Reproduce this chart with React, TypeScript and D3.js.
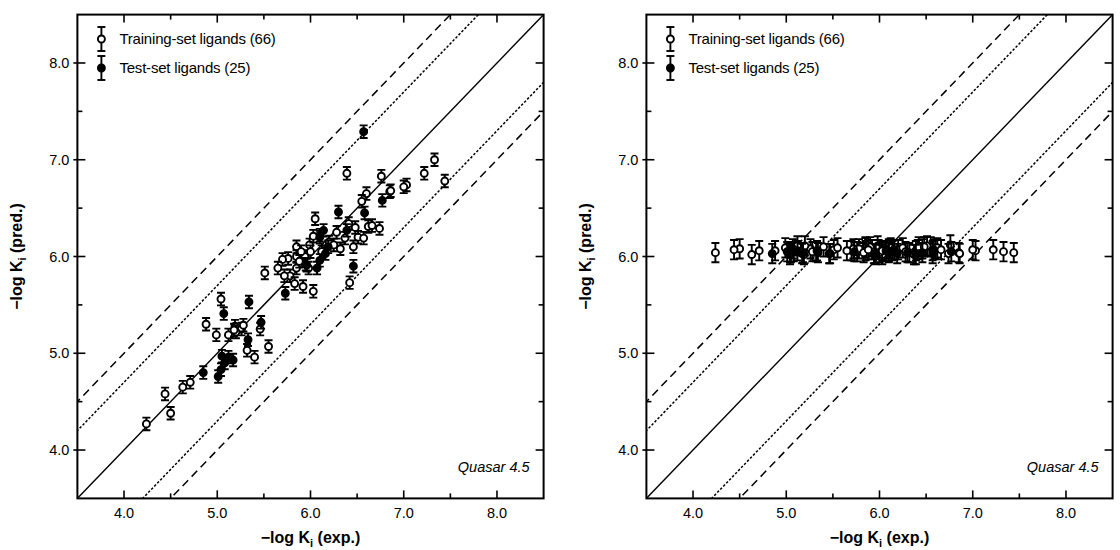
import * as d3 from 'd3';

// -log Ki experimental vs predicted (training set, open symbols)
const trainExp = [
  4.24, 4.50, 4.44, 4.63, 4.71, 4.88, 4.99, 5.04, 5.12, 5.19,
  5.26, 5.32, 5.40, 5.51, 5.46, 5.55, 6.39, 6.76, 6.85, 6.60,
  6.55, 6.05, 6.41, 6.74, 6.62, 6.51, 6.57, 6.32, 6.46, 6.37,
  5.99, 5.85, 5.76, 5.85, 5.94, 5.85, 5.98, 5.78, 5.83, 5.92,
  6.03, 6.42, 7.33, 7.22, 7.44, 7.03, 7.00, 6.86, 6.66, 5.20,
  5.28, 6.10, 5.70, 5.90, 6.00, 6.20, 6.25, 5.95, 6.03, 5.72,
  6.28, 6.48, 5.88, 5.18, 6.12, 5.65,
];
const trainPred = [
  4.27, 4.38, 4.58, 4.65, 4.70, 5.30, 5.19, 5.56, 5.19, 5.28,
  5.25, 5.03, 4.96, 5.83, 5.25, 5.07, 6.86, 6.83, 6.67, 6.65,
  6.57, 6.39, 6.34, 6.29, 6.31, 6.20, 6.19, 6.08, 6.10, 6.19,
  6.12, 6.10, 5.98, 6.00, 6.00, 5.88, 5.88, 5.80, 5.72, 5.69,
  5.64, 5.73, 7.00, 6.86, 6.78, 6.74, 6.72, 6.68, 6.32, 5.22,
  5.29, 6.22, 5.97, 6.05, 6.05, 6.15, 6.12, 5.92, 6.21, 5.80,
  6.25, 6.30, 5.95, 5.24, 6.05, 5.88,
];
// test set (filled symbols)
const testExp = [
  4.85, 5.01, 5.04, 5.05, 5.12, 5.17, 5.08, 5.07, 5.34, 5.33,
  5.47, 6.77, 6.58, 6.30, 6.39, 6.14, 6.10, 6.19, 6.16, 6.10,
  6.07, 5.96, 5.73, 6.46, 6.57,
];
const testPred = [
  4.80, 4.76, 4.83, 4.97, 4.96, 4.93, 4.90, 5.41, 5.53, 5.14,
  5.32, 6.58, 6.45, 6.46, 6.27, 6.27, 6.20, 6.10, 6.03, 5.96,
  5.88, 5.91, 5.62, 5.90, 7.29,
];
// second panel: predictions collapse to ~6.05
const trainPredFlat = [
  6.04, 6.08, 6.07, 6.02, 6.06, 6.06, 6.09, 6.04, 6.11, 6.02,
  6.08, 6.05, 6.10, 6.07, 6.03, 6.09, 6.06, 6.12, 6.04, 6.08,
  6.10, 6.05, 6.07, 6.03, 6.09, 6.11, 6.06, 6.04, 6.08, 6.02,
  6.07, 6.10, 6.05, 6.09, 6.03, 6.06, 6.11, 6.08, 6.04, 6.07,
  6.02, 6.10, 6.05, 6.07, 6.04, 6.06, 6.07, 6.03, 6.07, 6.11,
  6.05, 6.08, 6.06, 6.10, 6.04, 6.07, 6.09, 6.03, 6.06, 6.08,
  6.05, 6.10, 6.07, 6.04, 6.09, 6.06,
];
const testPredFlat = [
  6.03, 6.05, 6.02, 6.04, 6.06, 6.03, 6.05, 6.08, 6.04, 6.06,
  6.03, 6.05, 6.07, 6.04, 6.02, 6.06, 6.05, 6.03, 6.07, 6.04,
  6.06, 6.02, 6.05, 6.04, 6.03,
];

const majorTicks = [4, 5, 6, 7, 8];
const minorTicks = [4.5, 5.5, 6.5, 7.5];
const tickLabels = ['4.0', '5.0', '6.0', '7.0', '8.0'];
const guideOffsets = [-1, -0.7, 0, 0.7, 1];
const legendLabels = ['Training-set ligands (66)', 'Test-set ligands (25)'];
const programLabel = 'Quasar 4.5';

const FONT = '"Liberation Sans", Arial, Helvetica, sans-serif';
const TOP = 14.6;
const BOTTOM = 498.4;
const PW = 466.2;

function ErrPoint({ cx, cy, lo, hi, filled }: { cx: number; cy: number; lo: number; hi: number; filled: boolean }) {
  return (
    <g stroke="#000" strokeWidth={1.9}>
      <line x1={cx} x2={cx} y1={lo} y2={hi} />
      <line x1={cx - 4} x2={cx + 4} y1={lo} y2={lo} />
      <line x1={cx - 4} x2={cx + 4} y1={hi} y2={hi} />
      <circle cx={cx} cy={cy} r={3.5} fill={filled ? '#000' : '#fff'} />
    </g>
  );
}

function Panel({ id, left, trainY, testY, err }: { id: string; left: number; trainY: number[]; testY: number[]; err: number }) {
  const x = d3.scaleLinear().domain([3.5, 8.5]).range([left, left + PW]);
  const y = d3.scaleLinear().domain([3.5, 8.5]).range([BOTTOM, TOP]);
  const right = left + PW;
  const dashFor = (o: number) => (o === 0 ? undefined : Math.abs(o) === 1 ? '8,5' : '2.5,1.8');

  return (
    <g fontFamily={FONT}>
      <defs>
        <clipPath id={id}>
          <rect x={left} y={TOP} width={PW} height={BOTTOM - TOP} />
        </clipPath>
      </defs>
      <g clipPath={`url(#${id})`}>
        {guideOffsets.map(o => {
          const guide = d3.line<number>().x(d => x(d)).y(d => y(d + o));
          return (
            <path key={o} d={guide([2.5, 9.5]) || ''} fill="none" stroke="#000"
              strokeWidth={o === 0 ? 1.4 : 1.5} strokeDasharray={dashFor(o)} />
          );
        })}
        {trainExp.map((v, i) => (
          <ErrPoint key={'a' + i} cx={x(v)} cy={y(trainY[i])} lo={y(trainY[i] - err)} hi={y(trainY[i] + err)} filled={false} />
        ))}
        {testExp.map((v, i) => (
          <ErrPoint key={'b' + i} cx={x(v)} cy={y(testY[i])} lo={y(testY[i] - err)} hi={y(testY[i] + err)} filled={true} />
        ))}
      </g>
      <rect x={left} y={TOP} width={PW} height={BOTTOM - TOP} fill="none" stroke="#000" strokeWidth={2} />
      {majorTicks.map(t => (
        <g key={'M' + t} stroke="#000" strokeWidth={1.6}>
          <line x1={x(t)} x2={x(t)} y1={BOTTOM} y2={BOTTOM - 8} />
          <line x1={x(t)} x2={x(t)} y1={TOP} y2={TOP + 8} />
          <line x1={left - 4} x2={left + 8} y1={y(t)} y2={y(t)} />
          <line x1={right} x2={right - 8} y1={y(t)} y2={y(t)} />
        </g>
      ))}
      {minorTicks.map(t => (
        <g key={'m' + t} stroke="#000" strokeWidth={1.6}>
          <line x1={x(t)} x2={x(t)} y1={BOTTOM} y2={BOTTOM - 5} />
          <line x1={x(t)} x2={x(t)} y1={TOP} y2={TOP + 5} />
          <line x1={left} x2={left + 5} y1={y(t)} y2={y(t)} />
          <line x1={right} x2={right - 5} y1={y(t)} y2={y(t)} />
        </g>
      ))}
      {majorTicks.map((t, i) => (
        <text key={'xl' + t} x={x(t)} y={BOTTOM + 20} textAnchor="middle" fontSize={14.5}>{tickLabels[i]}</text>
      ))}
      {majorTicks.map((t, i) => (
        <text key={'yl' + t} x={left - 8} y={y(t) + 5} textAnchor="end" fontSize={14.5}>{tickLabels[i]}</text>
      ))}
      <text x={(left + right) / 2} y={543} textAnchor="middle" fontSize={16} fontWeight="bold">
        −log K<tspan fontSize={11} dy={4}>i</tspan><tspan dy={-4}> (exp.)</tspan>
      </text>
      <text transform={`translate(${left - 55},${(TOP + BOTTOM) / 2}) rotate(-90)`} textAnchor="middle" fontSize={16} fontWeight="bold">
        −log K<tspan fontSize={11} dy={4}>i</tspan><tspan dy={-4}> (pred.)</tspan>
      </text>
      {legendLabels.map((lab, i) => {
        const cy = 39 + i * 29;
        return (
          <g key={lab}>
            <ErrPoint cx={left + 24} cy={cy} lo={cy + 12} hi={cy - 12} filled={i === 1} />
            <text x={left + 42} y={cy + 5} fontSize={15} letterSpacing={-0.2}>{lab}</text>
          </g>
        );
      })}
      <text x={right - 14} y={472} textAnchor="end" fontSize={14.5} fontStyle="italic">{programLabel}</text>
    </g>
  );
}

export default function App() {
  return (
    <svg width={1120} height={550} style={{ position: 'absolute', left: 0, top: 0, background: '#fff' }}>
      <rect width={1120} height={550} fill="#fff" />
      <Panel id="clipA" left={77.4} trainY={trainPred} testY={testPred} err={0.065} />
      <Panel id="clipB" left={646.4} trainY={trainPredFlat} testY={testPredFlat} err={0.1} />
    </svg>
  );
}
